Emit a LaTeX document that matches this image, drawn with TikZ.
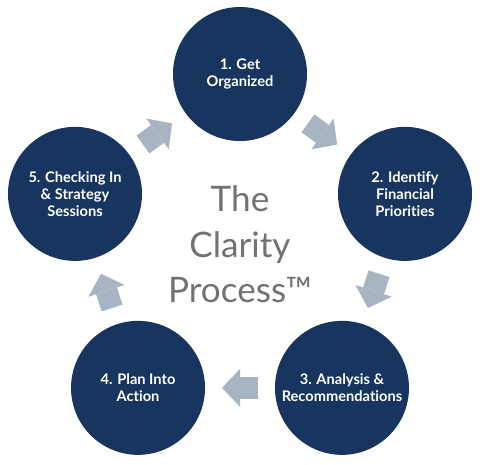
\documentclass[tikz,border=0pt]{standalone}
\usepackage{fontspec}
\setmainfont{Lato}[Ligatures=NoCommon]
\usetikzlibrary{calc,arrows.meta}
\definecolor{stagenavy}{HTML}{17355E}
\definecolor{arrowgray}{HTML}{A9B4C2}
\definecolor{titlegray}{HTML}{767171}

\begin{document}
\begin{tikzpicture}[
  stage/.style={circle, fill=stagenavy, minimum size=3.35cm, inner sep=0pt, text=white, align=center, font=\bfseries\fontsize{10.4}{12}\selectfont},
  cyclearrow/.style={draw=arrowgray, line width=0.55cm, -{Triangle[length=0.45cm, width=0.95cm, line width=0pt]}}
]
  \useasboundingbox (0,0) rectangle (12,11.625);
  \coordinate (hub) at (6,5.4375);

  \node[stage] (organize) at ($(hub)+(90:4.3375)$) {1. Get\\Organized};
  \node[stage] (priorities) at ($(hub)+(18:4.3375)$) {2. Identify\\Financial\\Priorities};
  \node[stage] (analysis) at ($(hub)+(-54:4.3375)$) {3. Analysis \&\\Recommendations};
  \node[stage] (action) at ($(hub)+(234:4.3375)$) {4. Plan Into\\Action};
  \node[stage] (checkin) at ($(hub)+(162:4.3375)$) {5. Checking In\\\& Strategy\\Sessions};

  \node[text=titlegray, align=center, font=\fontsize{25}{32.6}\selectfont] (title) at ($(hub)+(0,0.08)$) {The\\Clarity\\Process™};

  % arrows between the stages
  \foreach \from/\to in {organize/priorities, priorities/analysis, analysis/action, action/checkin, checkin/organize} {
    \coordinate (mid) at ($(\from)!0.5!(\to)$);
    \draw[cyclearrow] ($(mid)!0.45cm!(\from)$) -- ($(mid)!0.45cm!(\to)$);
  }
\end{tikzpicture}
\end{document}
